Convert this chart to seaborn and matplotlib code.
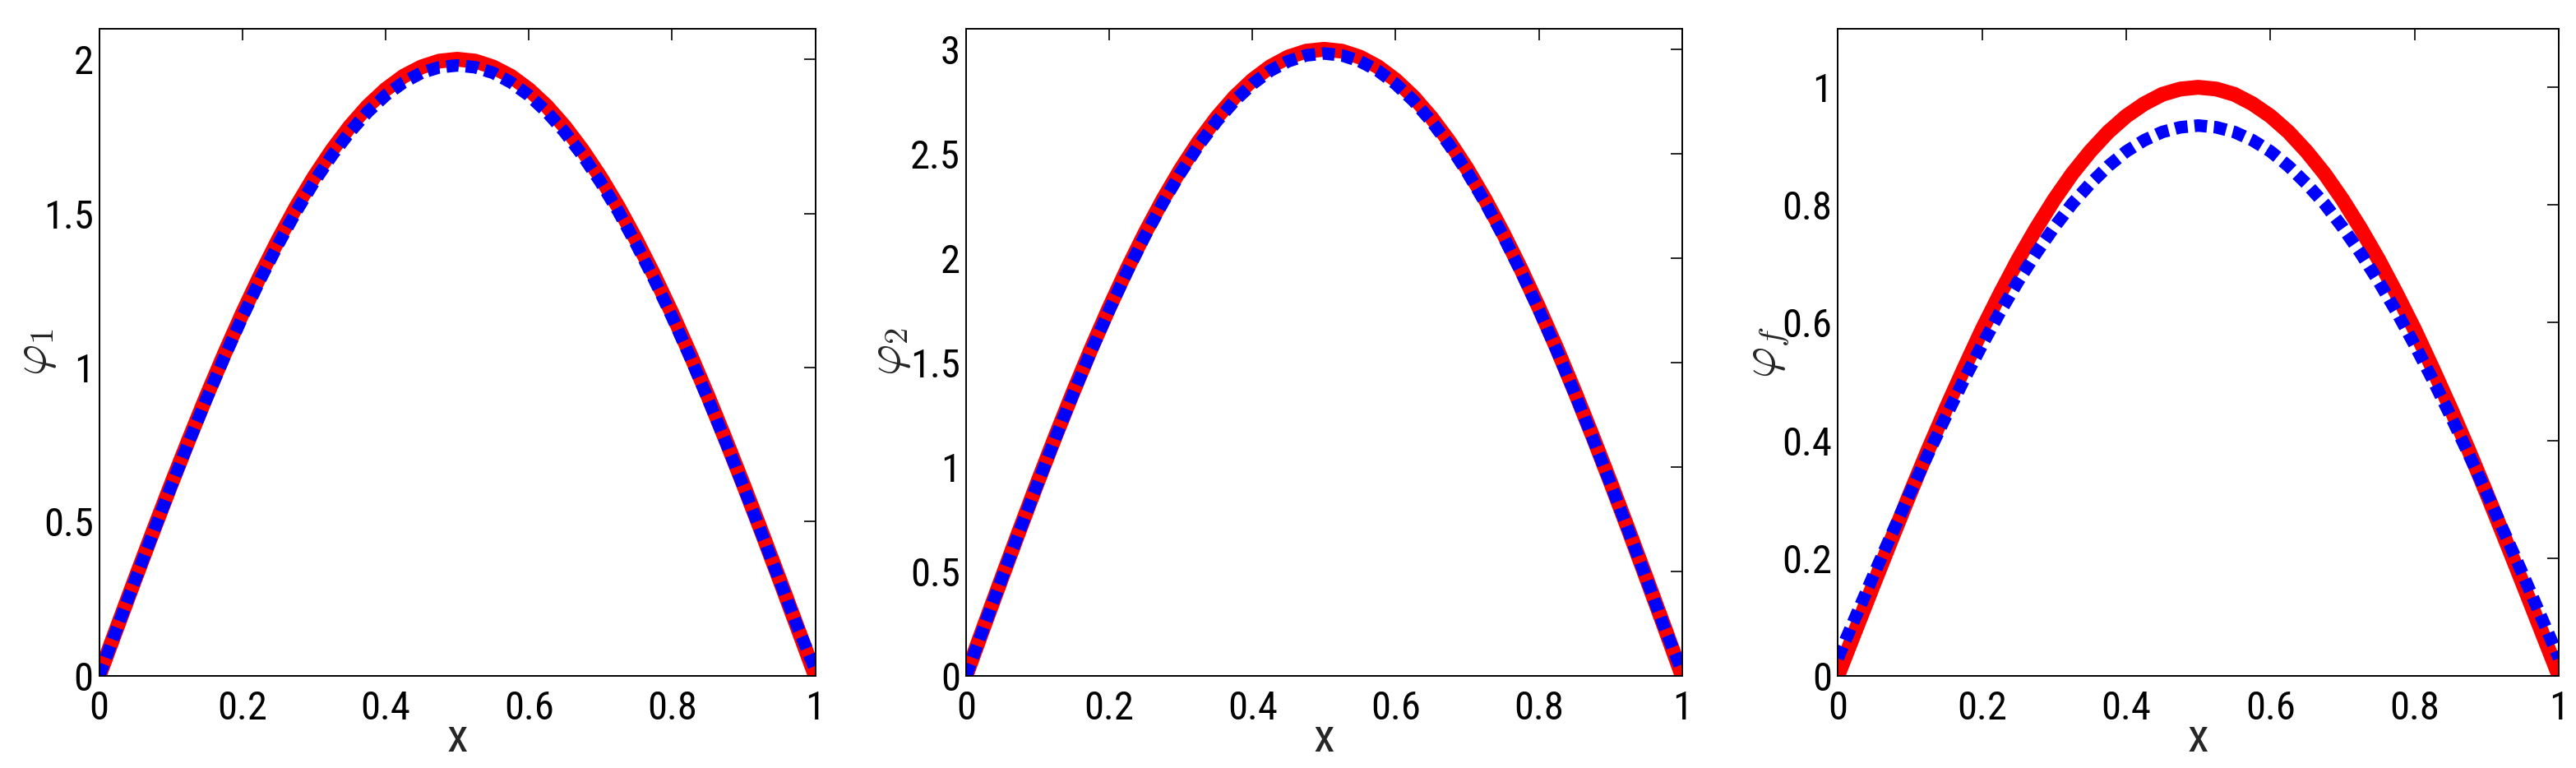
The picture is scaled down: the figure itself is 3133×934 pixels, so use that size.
import matplotlib
matplotlib.use("Agg")
import matplotlib.pyplot as plt
from matplotlib import font_manager
import seaborn as sns
import pandas as pd

# ---- data ----
x = [0.000, 0.025, 0.050, 0.075, 0.100, 0.125, 0.150, 0.175, 0.200, 0.225,
     0.250, 0.275, 0.300, 0.325, 0.350, 0.375, 0.400, 0.425, 0.450, 0.475,
     0.500, 0.525, 0.550, 0.575, 0.600, 0.625, 0.650, 0.675, 0.700, 0.725,
     0.750, 0.775, 0.800, 0.825, 0.850, 0.875, 0.900, 0.925, 0.950, 0.975, 1.000]

phi1_red = [0.000, 0.157, 0.313, 0.467, 0.618, 0.765, 0.908, 1.045, 1.176, 1.299,
            1.414, 1.521, 1.618, 1.705, 1.782, 1.848, 1.902, 1.945, 1.975, 1.994,
            2.000, 1.994, 1.975, 1.945, 1.902, 1.848, 1.782, 1.705, 1.618, 1.521,
            1.414, 1.299, 1.176, 1.045, 0.908, 0.765, 0.618, 0.467, 0.313, 0.157, 0.000]
phi1_blue = [0.000, 0.155, 0.310, 0.462, 0.612, 0.758, 0.899, 1.035, 1.164, 1.286,
             1.400, 1.506, 1.602, 1.688, 1.764, 1.829, 1.883, 1.925, 1.956, 1.974,
             1.980, 1.974, 1.956, 1.925, 1.883, 1.829, 1.764, 1.688, 1.602, 1.506,
             1.400, 1.286, 1.164, 1.035, 0.899, 0.758, 0.612, 0.462, 0.310, 0.160, 0.020]

phi2_red = [0.000, 0.236, 0.469, 0.700, 0.927, 1.148, 1.362, 1.568, 1.763, 1.948,
            2.121, 2.281, 2.427, 2.558, 2.673, 2.772, 2.853, 2.917, 2.963, 2.991,
            3.000, 2.991, 2.963, 2.917, 2.853, 2.772, 2.673, 2.558, 2.427, 2.281,
            2.121, 1.948, 1.763, 1.568, 1.362, 1.148, 0.927, 0.700, 0.469, 0.236, 0.000]
phi2_blue = [0.000, 0.234, 0.466, 0.696, 0.921, 1.140, 1.353, 1.557, 1.752, 1.935,
             2.107, 2.266, 2.411, 2.541, 2.655, 2.753, 2.834, 2.898, 2.943, 2.971,
             2.980, 2.971, 2.943, 2.898, 2.834, 2.753, 2.655, 2.541, 2.411, 2.266,
             2.107, 1.935, 1.752, 1.557, 1.353, 1.140, 0.921, 0.696, 0.466, 0.234, 0.020]

phif_red = [0.000, 0.078, 0.156, 0.233, 0.309, 0.383, 0.454, 0.522, 0.588, 0.649,
            0.707, 0.760, 0.809, 0.853, 0.891, 0.924, 0.951, 0.972, 0.988, 0.997,
            1.000, 0.997, 0.988, 0.972, 0.951, 0.924, 0.891, 0.853, 0.809, 0.760,
            0.707, 0.649, 0.588, 0.522, 0.454, 0.383, 0.309, 0.233, 0.156, 0.078, 0.000]
phif_blue = [0.030, 0.101, 0.172, 0.241, 0.310, 0.376, 0.441, 0.503, 0.562, 0.618,
             0.670, 0.718, 0.762, 0.802, 0.836, 0.866, 0.891, 0.910, 0.924, 0.932,
             0.935, 0.932, 0.924, 0.910, 0.891, 0.866, 0.836, 0.802, 0.762, 0.718,
             0.670, 0.618, 0.562, 0.503, 0.441, 0.376, 0.310, 0.241, 0.172, 0.101, 0.030]

x_ticks = [0, 0.2, 0.4, 0.6, 0.8, 1]
x_ticklabels = ["0", "0.2", "0.4", "0.6", "0.8", "1"]
panels = [
    dict(red=phi1_red, blue=phi1_blue, ylabel=r"$\varphi_1$", ylim=(0, 2.1),
         yticks=[0, 0.5, 1, 1.5, 2], yticklabels=["0", "0.5", "1", "1.5", "2"]),
    dict(red=phi2_red, blue=phi2_blue, ylabel=r"$\varphi_2$", ylim=(0, 3.1),
         yticks=[0, 0.5, 1, 1.5, 2, 2.5, 3],
         yticklabels=["0", "0.5", "1", "1.5", "2", "2.5", "3"]),
    dict(red=phif_red, blue=phif_blue, ylabel=r"$\varphi_f$", ylim=(0, 1.1),
         yticks=[0, 0.2, 0.4, 0.6, 0.8, 1],
         yticklabels=["0", "0.2", "0.4", "0.6", "0.8", "1"]),
]

sns.set_style("white")
# prefer a condensed face if one is installed
names = {f.name for f in font_manager.fontManager.ttflist}
cond = [n for n in ["Liberation Sans Narrow", "DejaVu Sans Condensed", "Roboto Condensed",
                    "Open Sans Condensed"] if n in names]
plt.rcParams["font.family"] = cond + ["DejaVu Sans"]
plt.rcParams["font.stretch"] = "condensed"
plt.rcParams["mathtext.fontset"] = "cm"

W, H, DPI = 3133, 934, 100
fig = plt.figure(figsize=(W / DPI, H / DPI), dpi=DPI)
fig.patch.set_facecolor("white")

lefts = [0.0385, 0.375, 0.7134]
widths = [0.278, 0.278, 0.280]
ylabel_x = [-0.088, -0.106, -0.095]
bottom, top = 0.12, 0.963

for p, l, w, yx in zip(panels, lefts, widths, ylabel_x):
    ax = fig.add_axes([l, bottom, w, top - bottom])
    df = pd.DataFrame({"x": x, "red": p["red"], "blue": p["blue"]})
    sns.lineplot(data=df, x="x", y="red", ax=ax, color="#ff0000", lw=13,
                 estimator=None, sort=False, solid_capstyle="butt",
                 solid_joinstyle="round")
    sns.lineplot(data=df, x="x", y="blue", ax=ax, color="#0000ff", lw=11,
                 estimator=None, sort=False, linestyle=(0, (1, 0.55)),
                 dash_capstyle="butt")
    ax.set_xlim(0, 1)
    ax.set_ylim(*p["ylim"])
    ax.set_xticks(x_ticks)
    ax.set_xticklabels(x_ticklabels)
    ax.set_yticks(p["yticks"])
    ax.set_yticklabels(p["yticklabels"])
    ax.tick_params(direction="in", length=10, width=1.2, top=True, right=True,
                   labelsize=35, colors="black")
    ax.tick_params(axis="x", pad=12)
    ax.tick_params(axis="y", pad=5)
    for s in ax.spines.values():
        s.set_visible(True)
        s.set_color("black")
        s.set_linewidth(1.4)
    ax.set_xlabel("x", fontsize=42, va="center")
    ax.xaxis.set_label_coords(0.5, -0.097)
    ax.set_ylabel(p["ylabel"], fontsize=42, va="center")
    ax.yaxis.set_label_coords(yx, 0.5)
    ax.set_facecolor("white")
    ax.grid(False)

fig.savefig("out.png", dpi=DPI, facecolor="white")
